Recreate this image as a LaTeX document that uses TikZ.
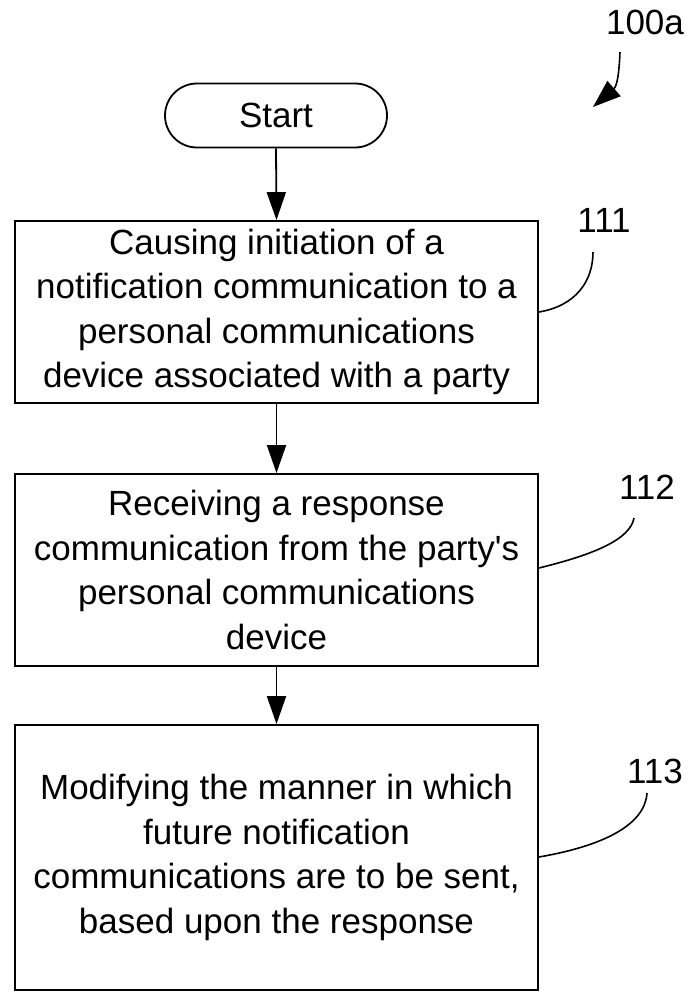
\documentclass[tikz,border=0pt]{standalone}
\usepackage{fontspec}
\setmainfont{Liberation Sans}[Ligatures=TeXOff]
\usetikzlibrary{arrows.meta}
\begin{document}
\begin{tikzpicture}[x=1pt,y=-1pt,line width=1.8pt,
  txt/.style={font=\fontsize{35}{44.5}\selectfont},
  stepbox/.style={draw, rectangle, inner sep=0pt, align=center, minimum width=523pt, txt},
  flow/.style={-{Triangle[length=28pt,width=19pt]}},
  lead/.style={line width=1.6pt},
  reflabel/.style={font=\fontsize{35}{40}\selectfont, inner sep=0pt}]
\useasboundingbox (0,0) rectangle (698,993);
\node[draw, rounded corners=32pt, minimum width=222pt, minimum height=64pt, inner sep=0pt, txt] (start) at (276,115.5) {Start};
\node[stepbox, minimum height=182pt] (b1) at (276.5,312) {Causing initiation of a\\notification communication to a\\personal communications\\device associated with a party};
\node[stepbox, minimum height=192pt] (b2) at (276.5,570) {Receiving a response\\communication from the party's\\personal communications\\device};
\node[stepbox, minimum height=265pt] (b3) at (276.5,857.5) {Modifying the manner in which\\future notification\\communications are to be sent,\\based upon the response};
\node[reflabel] (l100) at (645,22) {100a};
\node[reflabel] (l111) at (604,220.5) {111};
\node[reflabel] (l112) at (647,487.5) {112};
\node[reflabel] (l113) at (655,771) {113};
\coordinate (c100) at (620,52);
\coordinate (c100e) at (593,107);
\coordinate (c111) at (593,252);
\coordinate (c112) at (634,518);
\coordinate (c113) at (647,793);
\draw[flow] (start.south) -- (b1.north);
\draw[flow] (b1.south) -- (b2.north);
\draw[flow] (b2.south) -- (b3.north);
\draw[lead] (b1.east) .. controls (575,306) and (593,282) .. (c111);
\draw[lead] ([yshift=2pt]b2.east) .. controls (592,555) and (630,540) .. (c112);
\draw[lead] ([yshift=0.5pt]b3.east) .. controls (603,846) and (645,825) .. (c113);
\draw[lead, -{Triangle[length=28pt,width=20pt]}] (c100) .. controls (619,75) and (617,86) .. (c100e);
\end{tikzpicture}
\end{document}
